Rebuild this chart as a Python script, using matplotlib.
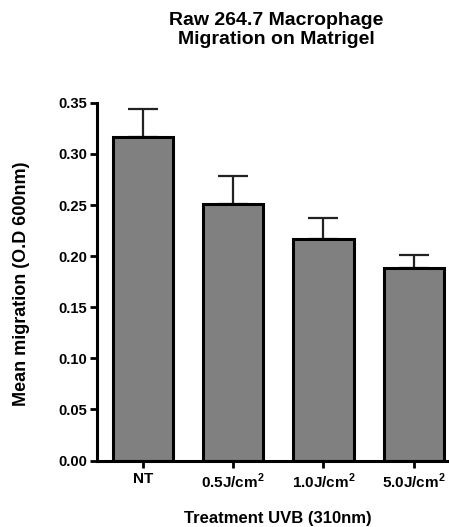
import matplotlib
matplotlib.use('Agg')
import matplotlib.pyplot as plt

plt.rcParams['font.family'] = ['Liberation Sans', 'DejaVu Sans']
plt.rcParams['mathtext.fontset'] = 'custom'
plt.rcParams['mathtext.rm'] = 'Liberation Sans'
plt.rcParams['mathtext.bf'] = 'Liberation Sans:bold'

# mean migration per UVB dose, with SEM
treatments = ['NT', r'0.5J/cm$^\mathbf{2}$', r'1.0J/cm$^\mathbf{2}$', r'5.0J/cm$^\mathbf{2}$']
migration = [0.317, 0.251, 0.217, 0.188]
sem = [0.027, 0.027, 0.020, 0.013]
yticks = [0.00, 0.05, 0.10, 0.15, 0.20, 0.25, 0.30, 0.35]

fig = plt.figure(figsize=(4.49, 5.27), dpi=100)
ax = fig.add_axes([0.216, 0.126, 0.79, 0.679])

x = range(len(treatments))
ax.bar(x, migration, width=0.67, color='#808080', edgecolor='black', linewidth=2.2, zorder=2)
ax.errorbar(x, migration, yerr=[[0] * len(sem), sem], fmt='none', ecolor='#222222',
            elinewidth=1.6, capsize=11, capthick=1.6, zorder=1)

ax.set_xlim(-0.508, 3.42)
ax.set_ylim(0, 0.35)
ax.set_yticks(yticks)
ax.set_yticklabels([f'{v:.2f}' for v in yticks], fontsize=10.6, fontweight='bold')
ax.set_xticks(list(x))
ax.set_xticklabels(treatments, fontsize=11, fontweight='bold')
ax.tick_params(axis='both', width=2, length=5, color='black', pad=2)
ax.tick_params(axis='x', pad=3)

for side in ['top', 'right']:
    ax.spines[side].set_visible(False)
for side in ['left', 'bottom']:
    ax.spines[side].set_linewidth(2.2)

fig.text(21.5 / 449, 1 - 284 / 527, 'Mean migration (O.D 600nm)', rotation=90, ha='center',
         va='center', fontsize=13, fontweight='bold')
fig.text(278 / 449, 1 - 518 / 527, 'Treatment UVB (310nm)', ha='center', va='center',
         fontsize=12, fontweight='bold')
fig.text(276 / 449, 1 - 30 / 527, 'Raw 264.7 Macrophage\nMigration on Matrigel', ha='center',
         va='center', fontsize=14, fontweight='bold', linespacing=1.2)

fig.savefig('out.png', dpi=100)
